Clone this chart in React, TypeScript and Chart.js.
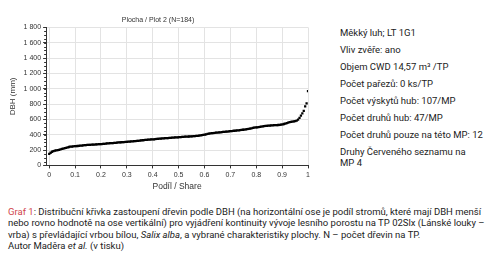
import React, { useEffect, useRef } from "react";
import { Chart, registerables } from "chart.js";

Chart.register(...registerables);

const chartTitle = "Plocha / Plot 2 (N=184)";
const xAxisTitle = "Podíl / Share";
const yAxisTitle = "DBH (mm)";
const xTickValues = [0, 0.1, 0.2, 0.3, 0.4, 0.5, 0.6, 0.7, 0.8, 0.9, 1];
const yTickValues = [0, 200, 400, 600, 800, 1000, 1200, 1400, 1600, 1800];

// DBH (mm) of the 184 trees, sorted ascending
const dbhValues = [
  150, 165, 178, 187, 193, 197, 200, 204, 209, 215,
  220, 224, 228, 234, 240, 245, 246, 248, 250, 251,
  253, 255, 257, 259, 262, 264, 266, 267, 268, 269,
  270, 271, 272, 274, 275, 276, 278, 279, 280, 282,
  284, 286, 288, 289, 291, 292, 293, 295, 297, 299,
  300, 302, 303, 305, 306, 308, 310, 311, 312, 314,
  316, 317, 319, 321, 323, 326, 328, 330, 332, 333,
  335, 337, 338, 340, 341, 343, 345, 346, 348, 350,
  351, 353, 355, 356, 357, 358, 360, 361, 362, 364,
  366, 367, 369, 370, 371, 372, 374, 375, 376, 377,
  378, 380, 381, 382, 384, 386, 388, 391, 394, 397,
  401, 405, 410, 414, 418, 420, 422, 424, 426, 428,
  430, 432, 434, 436, 438, 440, 442, 444, 446, 448,
  450, 452, 454, 456, 458, 460, 462, 465, 468, 471,
  474, 477, 480, 484, 488, 492, 495, 497, 499, 502,
  505, 508, 511, 514, 516, 518, 520, 522, 523, 524,
  525, 526, 527, 529, 531, 535, 540, 546, 552, 558,
  563, 567, 570, 574, 578, 585, 598, 620, 650, 680,
  710, 770, 810, 970,
];

const infoLines = [
  "Měkký luh; LT 1G1",
  "Vliv zvěře: ano",
  "Objem CWD 14,57 m³ /TP",
  "Počet pařezů: 0 ks/TP",
  "Počet výskytů hub: 107/MP",
  "Počet druhů hub: 47/MP",
  "Počet druhů pouze na této MP: 12",
];
const infoLastLines = ["Druhy Červeného seznamu na", "MP 4"];

const fmt = (v: number) =>
  String(v).replace(/\B(?=(\d{3})+(?!\d))/g, " ");

const minorTicks = {
  id: "minorTicks",
  afterDraw(chart: any) {
    const y = chart.scales.y;
    const x = chart.scales.x;
    const ctx = chart.ctx;
    ctx.save();
    ctx.strokeStyle = "#333";
    ctx.lineWidth = 1;
    for (let v = 0; v <= 1800; v += 50) {
      const py = Math.round(y.getPixelForValue(v)) + 0.5;
      ctx.beginPath();
      ctx.moveTo(x.left - 2, py);
      ctx.lineTo(x.left, py);
      ctx.stroke();
    }
    ctx.restore();
  },
};

function DbhChart() {
  const ref = useRef<HTMLCanvasElement | null>(null);
  useEffect(() => {
    if (!ref.current) return;
    const n = dbhValues.length;
    const pts = dbhValues.map((v, i) => ({ x: i / (n - 1), y: v }));
    const chart = new Chart(ref.current, {
      type: "scatter",
      data: {
        datasets: [
          {
            data: pts,
            backgroundColor: "#000",
            borderColor: "#000",
            pointStyle: "rect",
            pointRadius: 1.6,
            borderWidth: 0,
          },
        ],
      },
      plugins: [minorTicks],
      options: {
        animation: false,
        responsive: false,
        devicePixelRatio: 1,
        layout: { padding: { left: 8, right: 10, top: 0, bottom: 4 } },
        plugins: {
          legend: { display: false },
          tooltip: { enabled: false },
          title: {
            display: true,
            text: chartTitle,
            color: "#333",
            font: { family: "Liberation Sans", size: 7, weight: "normal" },
            padding: { top: 16, bottom: 3 },
          },
        },
        scales: {
          x: {
            type: "linear",
            min: -0.012,
            max: 1,
            afterBuildTicks: (s: any) => {
              s.ticks = xTickValues.map((v) => ({ value: v }));
            },
            ticks: {
              color: "#333",
              font: { family: "Liberation Sans", size: 7 },
              padding: 2,
              maxRotation: 0,
              autoSkip: false,
              callback: (v: any) => String(v),
            },
            grid: {
              color: "#e3e3e3",
              tickColor: "#333",
              tickLength: 3,
            },
            border: { color: "#333", width: 1 },
            title: {
              display: true,
              text: xAxisTitle,
              color: "#333",
              font: { family: "Liberation Sans", size: 8.5 },
              padding: { top: 1, bottom: 0 },
            },
          },
          y: {
            min: 0,
            max: 1800,
            afterBuildTicks: (s: any) => {
              s.ticks = yTickValues.map((v) => ({ value: v }));
            },
            ticks: {
              color: "#333",
              font: { family: "Liberation Sans", size: 7 },
              padding: 2,
              autoSkip: false,
              callback: (v: any) => fmt(Number(v)),
            },
            grid: {
              color: "#e3e3e3",
              tickColor: "#333",
              tickLength: 3,
            },
            border: { color: "#333", width: 1 },
            title: {
              display: true,
              text: yAxisTitle,
              color: "#333",
              font: { family: "Liberation Sans", size: 8 },
              padding: { top: 0, bottom: 4 },
            },
          },
        },
      },
    });
    return () => chart.destroy();
  }, []);
  return (
    <canvas
      ref={ref}
      width={318}
      height={196}
      style={{ position: "absolute", left: 0, top: 0, width: 318, height: 196 }}
    />
  );
}

export default function App() {
  const textFont = "Roboto, 'Liberation Sans', sans-serif";
  return (
    <div
      style={{
        position: "absolute",
        left: 0,
        top: 0,
        width: 500,
        height: 274,
        background: "#fff",
        overflow: "hidden",
      }}
    >
      <DbhChart />
      <div
        style={{
          position: "absolute",
          left: 340,
          top: 26,
          fontFamily: textFont,
          fontSize: 9.5,
          color: "#222",
          whiteSpace: "nowrap",
        }}
      >
        {infoLines.map((t, i) => (
          <div key={i} style={{ height: 17, lineHeight: "14px" }}>
            {t}
          </div>
        ))}
        <div style={{ lineHeight: "11px", marginTop: 1 }}>
          {infoLastLines.map((t, i) => (
            <div key={i}>{t}</div>
          ))}
        </div>
      </div>
      <div
        style={{
          position: "absolute",
          left: 8,
          top: 206,
          fontFamily: textFont,
          fontSize: 9.5,
          lineHeight: "11.3px",
          color: "#222",
          whiteSpace: "nowrap",
        }}
      >
        <span style={{ color: "#d0454b" }}>Graf 1</span>: Distribuční křivka
        zastoupení dřevin podle DBH (na horizontální ose je podíl stromů, které
        mají DBH menší
        <br />
        nebo rovno hodnotě na ose vertikální) pro vyjádření kontinuity vývoje
        lesního porostu na TP 02Slx (Lánské louky –
        <br />
        vrba) s převládající vrbou bílou, <i>Salix alba</i>, a vybrané
        charakteristiky plochy. N – počet dřevin na TP.
        <br />
        Autor Maděra <i>et al.</i> (v tisku)
      </div>
    </div>
  );
}
